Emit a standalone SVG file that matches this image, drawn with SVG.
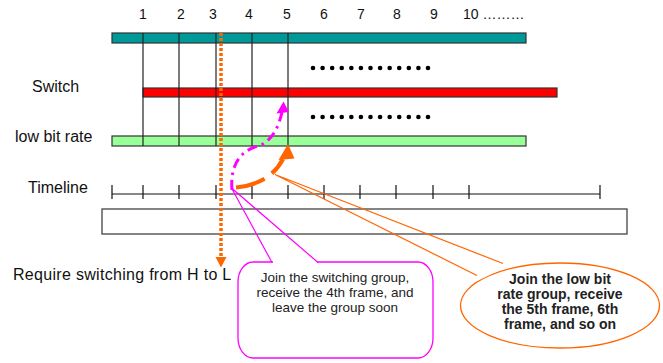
<svg xmlns="http://www.w3.org/2000/svg" width="663" height="363" viewBox="0 0 663 363">
  <style>
    .lbl { font-family: "Liberation Sans", Arial, sans-serif; font-size: 16px; fill: #111; }
    .num { font-family: "Liberation Sans", Arial, sans-serif; font-size: 14px; fill: #111; text-anchor: middle; }
    .bar { stroke: #333; stroke-width: 1.2; }
    .frame { stroke: #222; stroke-width: 1.2; fill: none; }
    .tick { stroke: #111; stroke-width: 1.2; }
    .dot { fill: #000; }
    .pinktxt { font-family: "Liberation Sans", Arial, sans-serif; font-size: 13.5px; fill: #222; text-anchor: middle; }
    .orgtxt { font-family: "Liberation Sans", Arial, sans-serif; font-size: 14px; font-weight: bold; fill: #222; text-anchor: middle; }
  </style>
  <defs>
    <g id="dotrow">
      <circle class="dot" cx="0" cy="0" r="2.3"/>
      <circle class="dot" cx="9.58" cy="0" r="2.3"/>
      <circle class="dot" cx="19.17" cy="0" r="2.3"/>
      <circle class="dot" cx="28.75" cy="0" r="2.3"/>
      <circle class="dot" cx="38.33" cy="0" r="2.3"/>
      <circle class="dot" cx="47.92" cy="0" r="2.3"/>
      <circle class="dot" cx="57.5" cy="0" r="2.3"/>
      <circle class="dot" cx="67.08" cy="0" r="2.3"/>
      <circle class="dot" cx="76.67" cy="0" r="2.3"/>
      <circle class="dot" cx="86.25" cy="0" r="2.3"/>
      <circle class="dot" cx="95.83" cy="0" r="2.3"/>
      <circle class="dot" cx="105.42" cy="0" r="2.3"/>
      <circle class="dot" cx="115" cy="0" r="2.3"/>
    </g>
  </defs>

  <rect width="663" height="363" fill="#fff"/>

  <!-- frame numbers -->
  <g id="frame-numbers">
    <text class="num" x="143" y="19">1</text>
    <text class="num" x="181" y="19">2</text>
    <text class="num" x="213" y="19">3</text>
    <text class="num" x="249" y="19">4</text>
    <text class="num" x="287" y="19">5</text>
    <text class="num" x="324" y="19">6</text>
    <text class="num" x="361" y="19">7</text>
    <text class="num" x="397" y="19">8</text>
    <text class="num" x="434" y="19">9</text>
    <text class="num" x="463" y="19" style="text-anchor:start">10 ………</text>
  </g>

  <!-- row labels -->
  <text class="lbl" x="32" y="91.5">Switch</text>
  <text class="lbl" x="15" y="141.5">low bit rate</text>
  <text class="lbl" x="28" y="193">Timeline</text>
  <text class="lbl" x="13" y="280" style="letter-spacing:0.3px">Require switching from H to L</text>

  <!-- stream bars -->
  <g id="high-rate-stream">
    <rect class="bar" x="112" y="33" width="414" height="10" fill="#009999"/>
  </g>
  <g id="switch-stream">
    <rect class="bar" x="143" y="88" width="414" height="9" fill="#ff0000"/>
  </g>
  <g id="low-rate-stream">
    <rect class="bar" x="112" y="136" width="414" height="10" fill="#99ff99"/>
  </g>

  <!-- frame boundaries -->
  <g id="frame-lines" class="frame">
    <line x1="143" y1="33" x2="143" y2="146"/>
    <line x1="179" y1="33" x2="179" y2="146"/>
    <line x1="216" y1="33" x2="216" y2="146"/>
    <line x1="252" y1="33" x2="252" y2="146"/>
    <line x1="288" y1="33" x2="288" y2="146"/>
  </g>

  <!-- continuation dots -->
  <use href="#dotrow" x="313" y="68"/>
  <use href="#dotrow" x="313" y="117"/>

  <!-- timeline -->
  <g id="timeline">
    <line class="tick" x1="112" y1="194" x2="600" y2="194"/>
    <g class="tick">
      <line x1="112" y1="185" x2="112" y2="199"/>
      <line x1="143" y1="185" x2="143" y2="199"/>
      <line x1="179" y1="185" x2="179" y2="199"/>
      <line x1="216" y1="185" x2="216" y2="199"/>
      <line x1="252" y1="185" x2="252" y2="199"/>
      <line x1="288" y1="185" x2="288" y2="199"/>
      <line x1="324" y1="185" x2="324" y2="199"/>
      <line x1="360" y1="185" x2="360" y2="199"/>
      <line x1="396" y1="185" x2="396" y2="199"/>
      <line x1="433" y1="185" x2="433" y2="199"/>
      <line x1="469" y1="185" x2="469" y2="199"/>
      <line x1="600" y1="185" x2="600" y2="199"/>
    </g>
    <rect x="102" y="209" width="525" height="25" fill="none" stroke="#444" stroke-width="1.3"/>
  </g>

  <!-- callout: switching group -->
  <g id="callout-switching">
    <rect x="238" y="262" width="195" height="96" rx="15" ry="20" fill="#fff" stroke="#ff00ff" stroke-width="1.3"/>
    <rect x="273" y="260" width="44" height="4" fill="#fff"/>
    <polyline points="272,262.5 231.5,188 318,262.5" fill="none" stroke="#ff00ff" stroke-width="1.2"/>
    <text class="pinktxt" x="335" y="282">Join the switching group,</text>
    <text class="pinktxt" x="335" y="297">receive the 4th frame, and</text>
    <text class="pinktxt" x="335" y="312">leave the group soon</text>
  </g>

  <!-- callout: low bit rate group -->
  <g id="callout-lowrate">
    <ellipse cx="560" cy="305.5" rx="99.5" ry="42.5" fill="#fff" stroke="#ff6600" stroke-width="1.3"/>
    <polygon points="477,275.5 503,263.5 500,270 475,282" fill="#fff"/>
    <polyline points="477,275.5 275,174.5 503,263.5" fill="none" stroke="#ff6600" stroke-width="1.2"/>
    <text class="orgtxt" x="560" y="283.5">Join the low bit</text>
    <text class="orgtxt" x="560" y="298.5">rate group, receive</text>
    <text class="orgtxt" x="560" y="313.5">the 5th frame, 6th</text>
    <text class="orgtxt" x="560" y="329">frame, and so on</text>
  </g>

  <!-- connectors -->
  <g id="connectors">
    <!-- switch request -->
    <line x1="221" y1="33" x2="221" y2="258" stroke="#ff6600" stroke-width="3.5" stroke-dasharray="3 2"/>
    <polygon points="215.5,257 226.5,257 221,267.5" fill="#ff6600"/>
    <!-- hop to switching stream -->
    <path d="M 232 190 C 230 165, 240 151, 258 146 C 272 142, 279 126, 282 112" fill="none" stroke="#ff00ff" stroke-width="3" stroke-dasharray="10 5 2.5 5"/>
    <polygon points="276.5,113.5 289,112 283.5,101.5" fill="#ff00ff"/>
    <!-- hop to low bit rate stream -->
    <path d="M 236 187.5 Q 270 184 283 159" fill="none" stroke="#ff6600" stroke-width="4.2" stroke-dasharray="30 9 80"/>
    <polygon points="278.5,160 294.5,158.5 288,144" fill="#ff6600"/>
  </g>
</svg>
